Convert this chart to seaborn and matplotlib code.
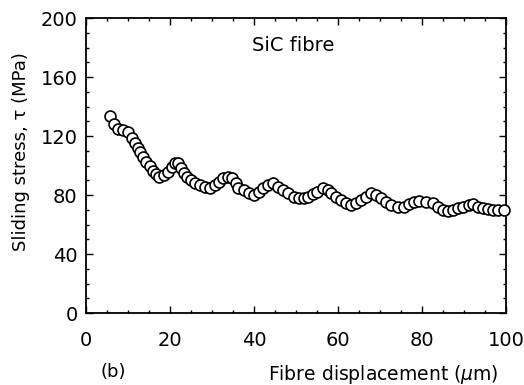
import numpy as np
import pandas as pd
import seaborn as sns
import matplotlib.pyplot as plt
from matplotlib.ticker import MultipleLocator

# data
displacement = [5.7, 6.7, 7.6, 8.8, 10.0, 11.0, 11.6, 12.3, 12.9, 13.6,
                14.2, 15.2, 16.0, 16.6, 17.4, 18.5, 19.6, 20.5, 21.3, 22.0,
                22.6, 23.3, 24.1, 24.9, 26.0, 27.2, 28.4, 29.5, 30.6, 31.6,
                32.6, 33.7, 34.8, 35.6, 36.3, 37.5, 38.7, 39.9, 41.1, 42.2,
                43.4, 44.6, 45.8, 47.0, 48.2, 49.4, 50.6, 51.8, 52.9, 54.0,
                55.1, 56.3, 57.5, 58.2, 59.4, 60.6, 61.8, 63.0, 64.2, 65.4,
                66.6, 67.8, 69.0, 70.2, 71.4, 72.6, 74.2, 75.7, 76.8, 78.0,
                79.2, 80.9, 82.6, 83.8, 85.0, 86.2, 87.4, 88.5, 89.7, 91.2,
                92.1, 93.3, 94.5, 95.7, 96.9, 98.1, 99.5]
stress = [133.5, 128, 125, 124, 122.7, 119, 115.5, 112, 109, 105.8,
          102.4, 99.5, 96.5, 94, 92.5, 93.5, 95.6, 99, 101.5, 101.5,
          98.5, 95, 92, 90, 88, 86.8, 85.4, 84.5, 86.8, 88.8,
          91.5, 92.2, 91.5, 88.1, 84.7, 83.4, 81.4, 80, 82, 84.7,
          86.8, 88.1, 85.4, 83.4, 81.4, 79, 78.2, 78, 79, 80.5,
          82, 84.7, 83.4, 81.4, 78.6, 76.6, 74.6, 73.2, 74.6, 76.6,
          78.6, 81.4, 80, 78, 75.3, 73.2, 71.9, 71.9, 74, 75.3,
          76, 75.3, 74.6, 71.9, 69.8, 69.2, 69.8, 71.2, 71.9, 73.2,
          73.9, 71.9, 71.2, 70.5, 69.8, 69.8, 69.8]

df = pd.DataFrame({"x": displacement, "y": stress})

sns.set_style("ticks")
plt.rcParams['font.family'] = ['DejaVu Sans']
plt.rcParams['text.color'] = 'black'
plt.rcParams['axes.labelcolor'] = 'black'

fig = plt.figure(figsize=(5.24, 3.85), dpi=100)
ax = fig.add_axes([0.164, 0.187, 0.802, 0.766])

sns.scatterplot(data=df, x="x", y="y", ax=ax, s=62, marker="o",
                facecolor="white", edgecolor="black", linewidth=1.2, zorder=3,
                clip_on=False)

ax.set_xlim(0, 100)
ax.set_ylim(0, 200)
ax.xaxis.set_major_locator(MultipleLocator(20))
ax.xaxis.set_minor_locator(MultipleLocator(5))
ax.yaxis.set_major_locator(MultipleLocator(40))
ax.yaxis.set_minor_locator(MultipleLocator(10))
ax.tick_params(which="both", direction="in", top=True, right=True,
               colors="black", labelcolor="black", width=1.0)
ax.tick_params(which="major", length=5, labelsize=14)
ax.tick_params(axis="x", which="major", pad=13)
ax.tick_params(axis="y", which="major", pad=6)
ax.tick_params(which="minor", length=2.5)
for sp in ax.spines.values():
    sp.set_linewidth(1.3)
    sp.set_color("black")

ax.set_xlabel("Fibre displacement ($\\mu$m)", fontsize=13.5)
ax.xaxis.set_label_coords(0.708, -0.168)
ax.set_ylabel("Sliding stress, τ (MPa)", fontsize=13)
ax.yaxis.set_label_coords(-0.134, 0.546)
ax.text(0.395, 0.908, "SiC fibre", transform=ax.transAxes, fontsize=14,
        va="center")
fig.text(100 / 524, 1 - 372 / 385, "(b)", fontsize=13, va="center")

fig.savefig("out.png", dpi=100)
